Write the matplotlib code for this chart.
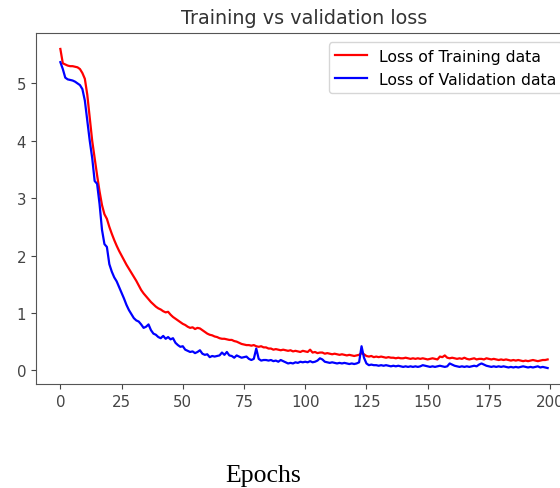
import numpy as np
import matplotlib
matplotlib.use("Agg")
import matplotlib.pyplot as plt

# loss per epoch
train_loss = [
    5.60, 5.35, 5.33, 5.31, 5.30, 5.30, 5.29, 5.28, 5.25, 5.18,
    5.08, 4.80, 4.40, 4.00, 3.70, 3.40, 3.12, 2.88, 2.72, 2.64,
    2.50, 2.38, 2.27, 2.17, 2.08, 2.00, 1.92, 1.84, 1.77, 1.70,
    1.63, 1.56, 1.48, 1.40, 1.34, 1.29, 1.24, 1.19, 1.15, 1.11,
    1.08, 1.06, 1.03, 1.01, 1.02, 0.97, 0.93, 0.90, 0.87, 0.84,
    0.81, 0.79, 0.76, 0.74, 0.75, 0.72, 0.74, 0.73, 0.70, 0.67,
    0.64, 0.62, 0.61, 0.59, 0.58, 0.56, 0.55, 0.55, 0.54, 0.53,
    0.53, 0.51, 0.50, 0.48, 0.46, 0.45, 0.44, 0.44, 0.43, 0.44,
    0.42, 0.41, 0.42, 0.40, 0.40, 0.38, 0.38, 0.36, 0.37, 0.36,
    0.35, 0.36, 0.35, 0.34, 0.35, 0.33, 0.34, 0.33, 0.32, 0.34,
    0.33, 0.32, 0.36, 0.31, 0.32, 0.30, 0.31, 0.31, 0.29, 0.30,
    0.29, 0.28, 0.29, 0.28, 0.27, 0.28, 0.27, 0.26, 0.27, 0.26,
    0.25, 0.26, 0.27, 0.30, 0.28, 0.25, 0.24, 0.25, 0.23, 0.24,
    0.23, 0.24, 0.23, 0.22, 0.23, 0.22, 0.22, 0.21, 0.22, 0.21,
    0.21, 0.22, 0.21, 0.20, 0.21, 0.20, 0.21, 0.20, 0.21, 0.20,
    0.19, 0.20, 0.21, 0.20, 0.19, 0.24, 0.23, 0.26, 0.22, 0.21,
    0.22, 0.21, 0.20, 0.21, 0.20, 0.22, 0.20, 0.19, 0.20, 0.21,
    0.19, 0.20, 0.20, 0.19, 0.21, 0.20, 0.19, 0.20, 0.19, 0.18,
    0.19, 0.18, 0.19, 0.18, 0.17, 0.18, 0.17, 0.18, 0.17, 0.16,
    0.17, 0.16, 0.17, 0.18, 0.17, 0.16, 0.17, 0.18, 0.18, 0.19,
]
val_loss = [
    5.37, 5.25, 5.10, 5.07, 5.06, 5.05, 5.03, 5.00, 4.97, 4.90,
    4.70, 4.35, 4.00, 3.70, 3.30, 3.25, 2.90, 2.45, 2.20, 2.15,
    1.85, 1.72, 1.62, 1.55, 1.45, 1.35, 1.25, 1.14, 1.05, 0.98,
    0.91, 0.87, 0.85, 0.80, 0.74, 0.76, 0.80, 0.70, 0.64, 0.62,
    0.58, 0.56, 0.60, 0.55, 0.58, 0.54, 0.56, 0.48, 0.44, 0.41,
    0.42, 0.36, 0.34, 0.32, 0.33, 0.30, 0.32, 0.35, 0.29, 0.27,
    0.28, 0.23, 0.25, 0.24, 0.25, 0.26, 0.31, 0.27, 0.32, 0.26,
    0.25, 0.22, 0.26, 0.24, 0.22, 0.23, 0.24, 0.20, 0.18, 0.20,
    0.38, 0.20, 0.17, 0.18, 0.18, 0.17, 0.18, 0.16, 0.17, 0.15,
    0.18, 0.16, 0.14, 0.12, 0.13, 0.12, 0.14, 0.13, 0.15, 0.14,
    0.15, 0.14, 0.16, 0.14, 0.15, 0.17, 0.21, 0.19, 0.15, 0.14,
    0.13, 0.14, 0.13, 0.12, 0.13, 0.12, 0.13, 0.12, 0.11, 0.12,
    0.11, 0.12, 0.14, 0.42, 0.22, 0.12, 0.09, 0.10, 0.09, 0.09,
    0.08, 0.09, 0.08, 0.09, 0.08, 0.07, 0.08, 0.07, 0.08, 0.07,
    0.06, 0.07, 0.06, 0.07, 0.06, 0.07, 0.06, 0.07, 0.09, 0.08,
    0.07, 0.06, 0.07, 0.06, 0.07, 0.08, 0.07, 0.06, 0.07, 0.12,
    0.10, 0.08, 0.07, 0.06, 0.07, 0.06, 0.07, 0.06, 0.07, 0.08,
    0.07, 0.10, 0.12, 0.10, 0.08, 0.07, 0.06, 0.07, 0.06, 0.07,
    0.06, 0.07, 0.06, 0.05, 0.06, 0.05, 0.06, 0.05, 0.06, 0.07,
    0.06, 0.05, 0.06, 0.05, 0.06, 0.07, 0.05, 0.06, 0.05, 0.04,
]
epochs = np.arange(len(train_loss))

fig = plt.figure(figsize=(5.6, 4.89), dpi=100)
# the plot runs slightly past the right edge of the canvas
ax = fig.add_axes([36 / 560, 1 - 385 / 489, 536 / 560, 351 / 489])

ax.plot(epochs, train_loss, color="red", lw=1.6, label="Loss of Training data")
ax.plot(epochs, val_loss, color="blue", lw=1.6, label="Loss of Validation data")
ax.set_title("Training vs validation loss", fontsize=13.8, color="#333333", pad=7)
ax.set_xticks([0, 25, 50, 75, 100, 125, 150, 175, 200])
ax.set_yticks([0, 1, 2, 3, 4, 5])
ax.tick_params(labelsize=10.8, colors="#444444")
for s in ax.spines.values():
    s.set_color("#555555")
ax.legend(loc="upper right", fontsize=11.3, borderaxespad=0.6)

fig.text(263 / 560, 1 - 476 / 489, "Epochs", family="Liberation Serif",
         fontsize=18.5, ha="center", va="center")

fig.savefig("out.png", dpi=100)
